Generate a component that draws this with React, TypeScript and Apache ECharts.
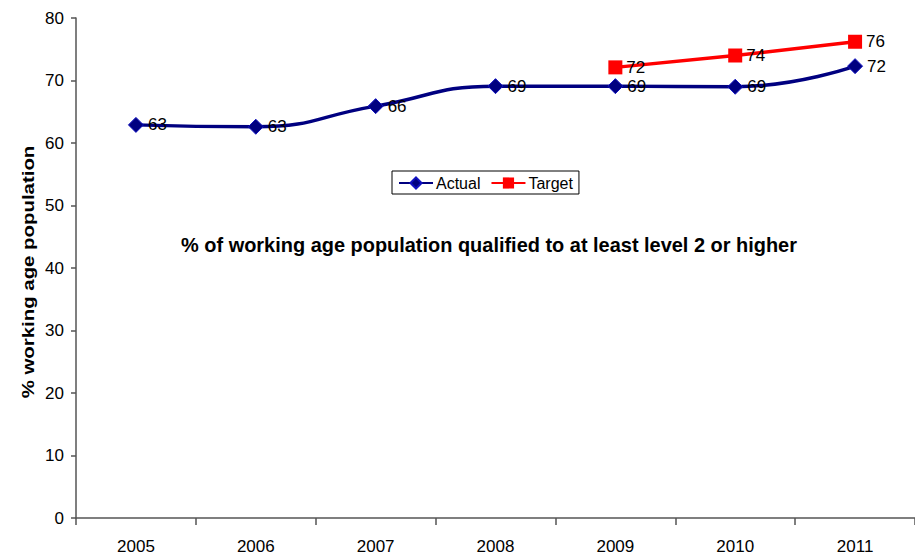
import React, { useEffect, useRef } from "react";
import * as echarts from "echarts";

const years = ["2005", "2006", "2007", "2008", "2009", "2010", "2011"];
const actual = [62.9, 62.6, 65.9, 69.1, 69.1, 69.0, 72.3];
const actualLabels = ["63", "63", "66", "69", "69", "69", "72"];
const target = [null, null, null, null, 72.1, 74.0, 76.2];
const targetLabels = ["", "", "", "", "72", "74", "76"];
const yTicks = [0, 10, 20, 30, 40, 50, 60, 70, 80];

const FONT = "'Liberation Sans', Arial, sans-serif";

export default function App() {
  const ref = useRef<HTMLDivElement>(null);
  useEffect(() => {
    if (!ref.current) return;
    const chart = echarts.init(ref.current, null, { renderer: "svg" });
    chart.setOption({
      animation: false,
      backgroundColor: "#ffffff",
      textStyle: { fontFamily: FONT },
      grid: { left: 76, right: 0, top: 18, bottom: 40 },
      legend: {
        data: ["Actual", "Target"],
        left: 392,
        top: 171,
        width: 187,
        padding: [4, 6, 3, 6],
        itemGap: 10,
        itemWidth: 34,
        itemHeight: 14,
        borderColor: "#000",
        borderWidth: 1,
        textStyle: { fontFamily: FONT, fontSize: 16, color: "#000", padding: [0, 0, 0, -2] },
      },
      xAxis: {
        type: "category",
        data: years,
        boundaryGap: true,
        axisLine: { lineStyle: { color: "#555", width: 1.5 } },
        axisTick: { show: true, length: 7, lineStyle: { color: "#555", width: 1.5 } },
        axisLabel: { fontFamily: FONT, fontSize: 17, color: "#000", margin: 20 },
      },
      yAxis: {
        type: "value",
        min: 0,
        max: 80,
        interval: 10,
        splitLine: { show: false },
        axisLine: { show: true, lineStyle: { color: "#555", width: 1.5 } },
        axisTick: { show: true, length: 5, lineStyle: { color: "#555", width: 1.5 } },
        axisLabel: {
          fontFamily: FONT,
          fontSize: 17,
          color: "#000",
          margin: 12,
          formatter: (v: number) => (yTicks.includes(v) ? String(v) : ""),
        },
      },
      graphic: [
        {
          type: "text",
          x: 28,
          y: 272,
          rotation: Math.PI / 2,
          scaleX: 1.2,
          style: {
            text: "% working age population",
            fontFamily: FONT,
            fontWeight: "bold",
            fontSize: 17,
            fill: "#000",
            align: "center",
            verticalAlign: "middle",
          },
        },
        {
          type: "text",
          x: 489,
          y: 244,
          scaleX: 0.95,
          style: {
            text: "% of working age population qualified to at least level 2 or higher",
            fontFamily: FONT,
            fontWeight: "bold",
            fontSize: 21,
            fill: "#000",
            align: "center",
            verticalAlign: "middle",
          },
        },
      ],
      series: [
        {
          name: "Actual",
          type: "line",
          data: actual,
          smooth: 0.5,
          symbol: "diamond",
          symbolSize: 15,
          lineStyle: { color: "#000080", width: 3.5 },
          itemStyle: { color: "#000080", borderColor: "#1010c0", borderWidth: 1 },
          label: {
            show: true,
            position: "right",
            distance: 4,
            fontFamily: FONT,
            fontSize: 17,
            color: "#000",
            formatter: (p: any) => actualLabels[p.dataIndex],
          },
        },
        {
          name: "Target",
          type: "line",
          data: target,
          symbol: "rect",
          symbolSize: 14,
          lineStyle: { color: "#ff0000", width: 3.5 },
          itemStyle: { color: "#ff0000" },
          label: {
            show: true,
            position: "right",
            distance: 4,
            fontFamily: FONT,
            fontSize: 17,
            color: "#000",
            formatter: (p: any) => targetLabels[p.dataIndex],
          },
        },
      ],
    });
    return () => chart.dispose();
  }, []);
  return <div ref={ref} style={{ width: 915, height: 558, position: "absolute", left: 0, top: 0 }} />;
}
